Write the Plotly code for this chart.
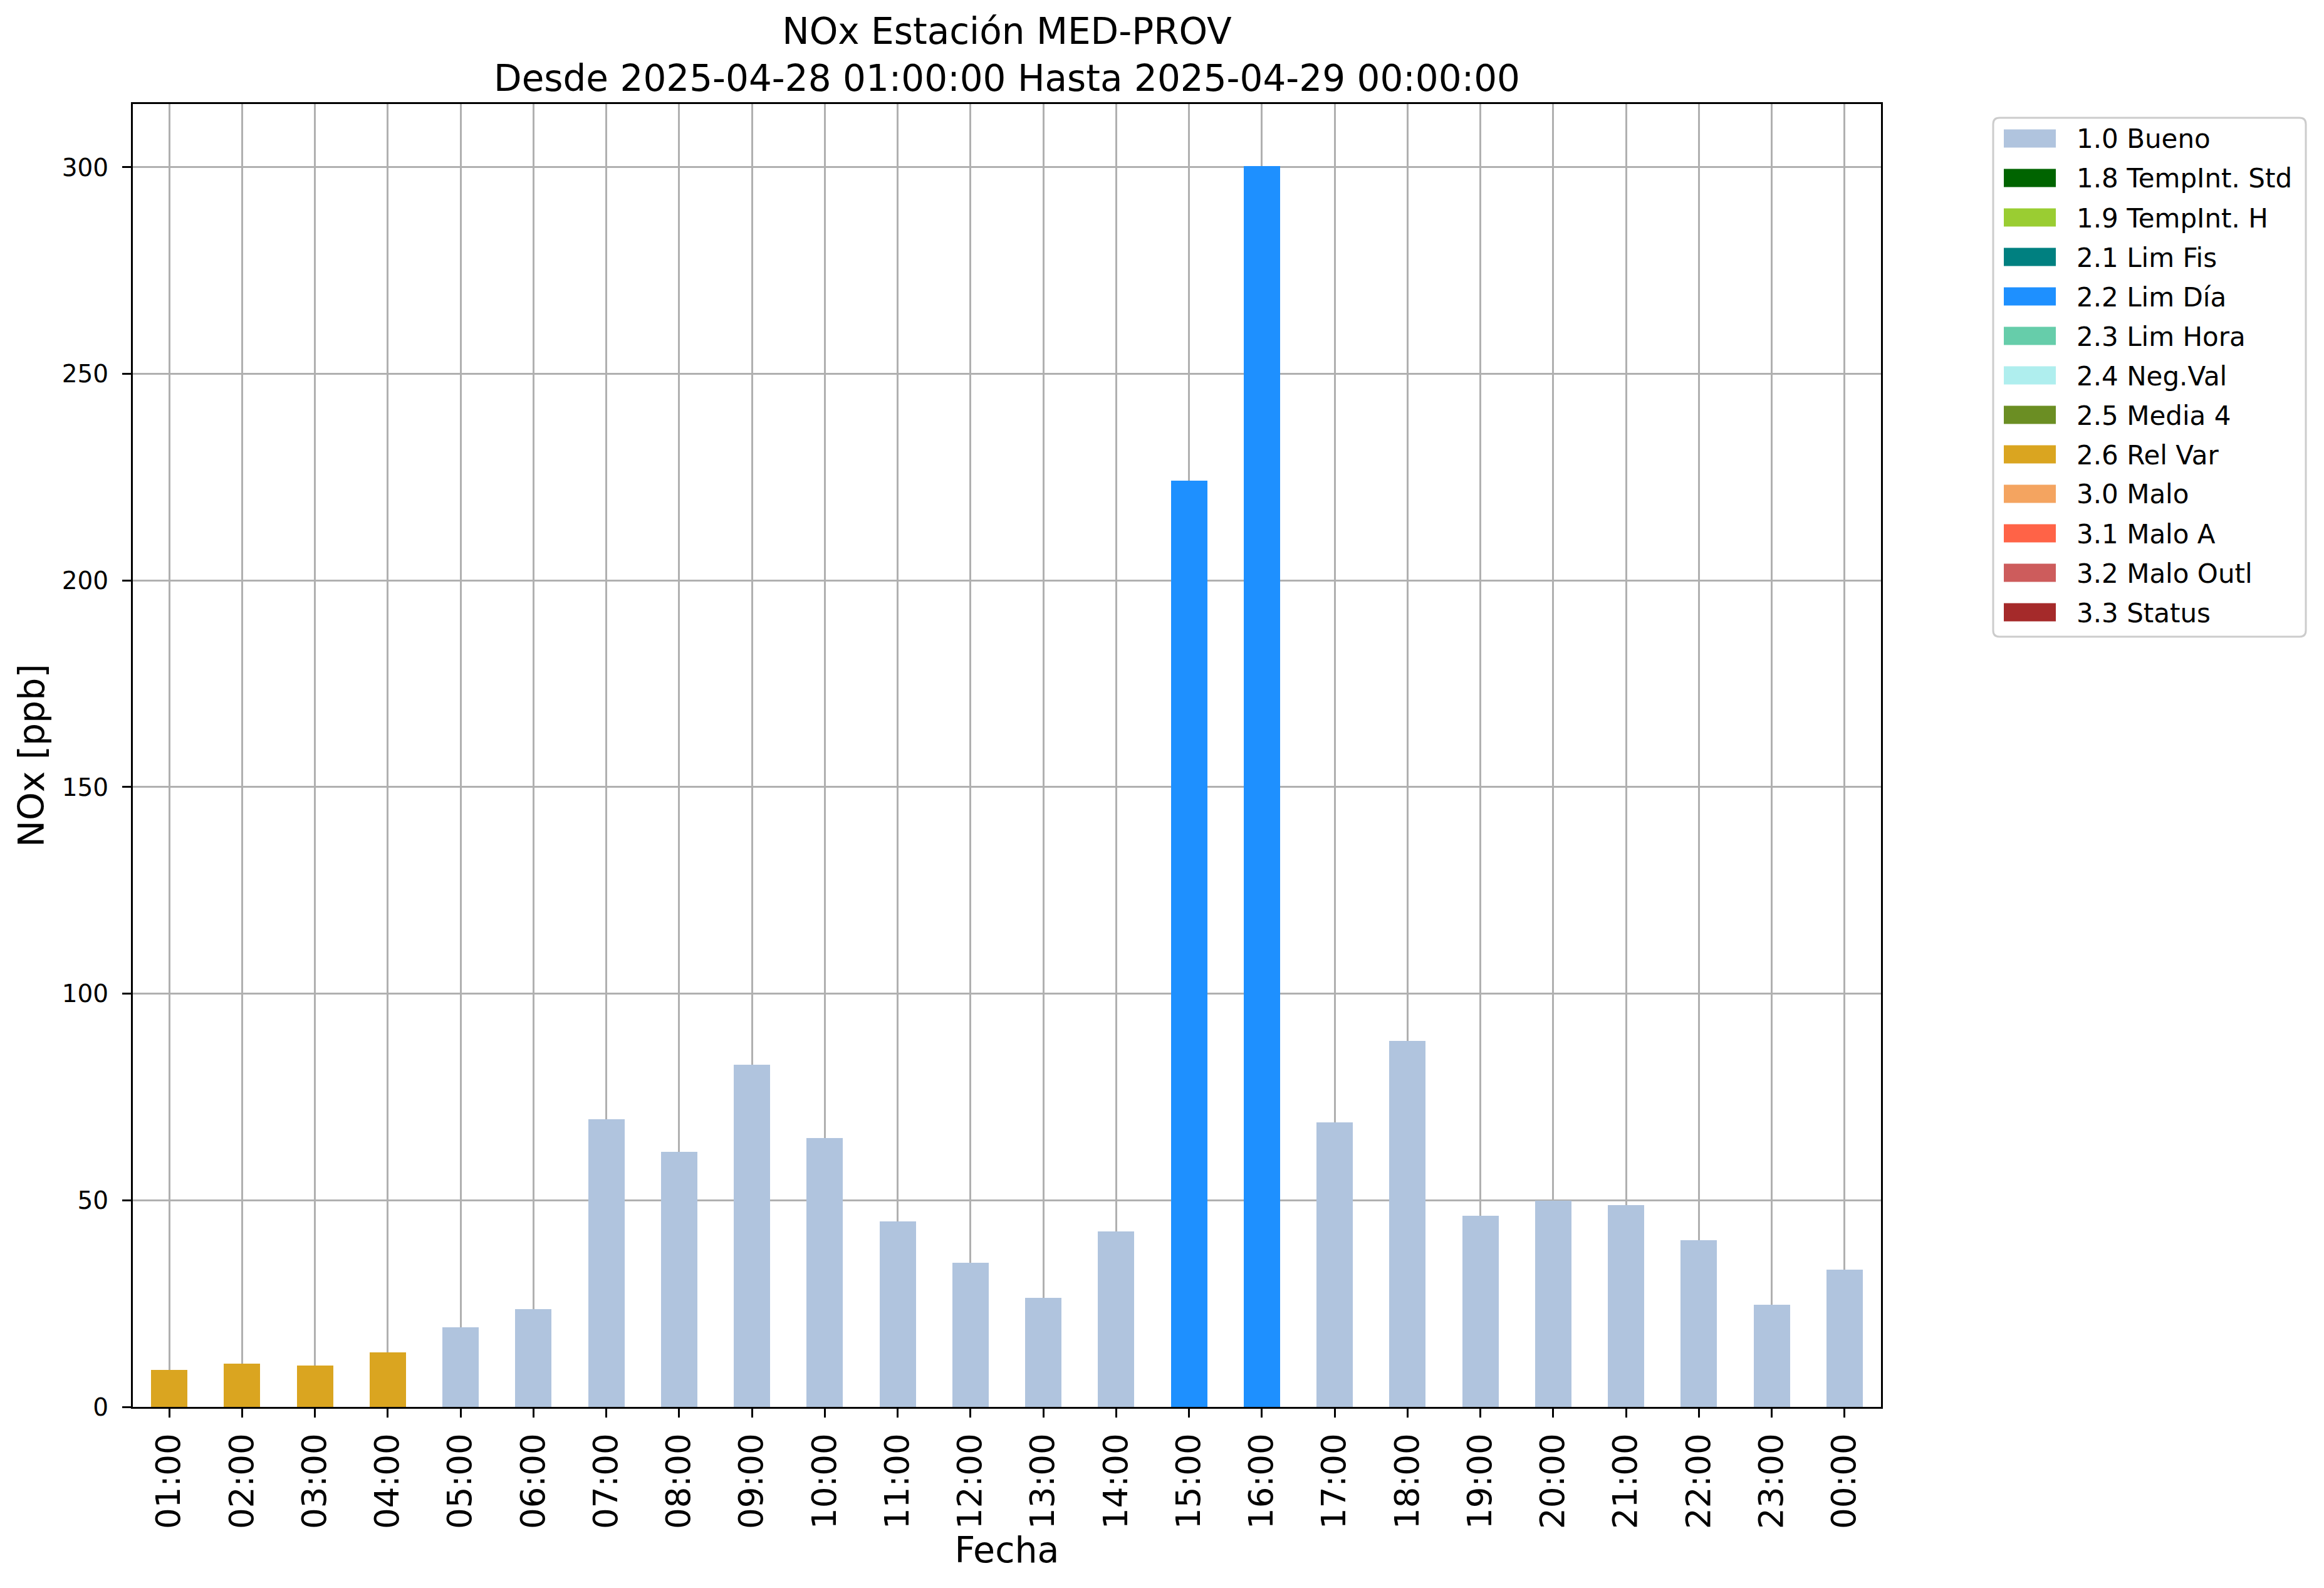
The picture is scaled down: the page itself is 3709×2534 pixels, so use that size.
import plotly.graph_objects as go

# ---------------- data ----------------
hours = ["01:00", "02:00", "03:00", "04:00", "05:00", "06:00", "07:00", "08:00",
         "09:00", "10:00", "11:00", "12:00", "13:00", "14:00", "15:00", "16:00",
         "17:00", "18:00", "19:00", "20:00", "21:00", "22:00", "23:00", "00:00"]
nox = [9.0, 10.4, 10.0, 13.2, 19.3, 23.7, 69.6, 61.8,
       82.8, 65.0, 44.9, 34.9, 26.4, 42.4, 224.1, 300.3,
       68.8, 88.6, 46.2, 49.9, 48.8, 40.3, 24.7, 33.2]
flags = ["2.6", "2.6", "2.6", "2.6", "1.0", "1.0", "1.0", "1.0",
         "1.0", "1.0", "1.0", "1.0", "1.0", "1.0", "2.2", "2.2",
         "1.0", "1.0", "1.0", "1.0", "1.0", "1.0", "1.0", "1.0"]

flag_codes = ["1.0", "1.8", "1.9", "2.1", "2.2", "2.3", "2.4", "2.5", "2.6",
              "3.0", "3.1", "3.2", "3.3"]
flag_labels = ["1.0 Bueno", "1.8 TempInt. Std", "1.9 TempInt. H", "2.1 Lim Fis",
               "2.2 Lim Día", "2.3 Lim Hora", "2.4 Neg.Val", "2.5 Media 4",
               "2.6 Rel Var", "3.0 Malo", "3.1 Malo A", "3.2 Malo Outl", "3.3 Status"]
flag_colors = ["#B0C4DE", "#006400", "#9ACD32", "#008080", "#1E90FF", "#66CDAA",
               "#AFEEEE", "#6B8E23", "#DAA520", "#F4A460", "#FF6347", "#CD5C5C",
               "#A52A2A"]

title_text = "NOx Estación MED-PROV<br>Desde 2025-04-28 01:00:00 Hasta 2025-04-29 00:00:00"

# ---------------- layout constants (pixels) ----------------
W, H = 3709, 2534
OFF = 8  # default page body margin
L, R, T, B = 212 - OFF, 3002 - OFF, 166 - OFF, 2245 - OFF
FONT = "DejaVu Sans"


def px_x(X):
    return (X - OFF - L) / (R - L)


def px_y(Y):
    return (B - (Y - OFF)) / (B - T)


fig = go.Figure()
for code, label, color in zip(flag_codes, flag_labels, flag_colors):
    yvals = [v if f == code else 0 for v, f in zip(nox, flags)]
    fig.add_trace(go.Bar(
        x=hours, y=yvals, name=label, width=0.5,
        marker=dict(color=color, line=dict(width=0)),
        showlegend=False,
    ))

# ---------------- custom legend (matplotlib style) ----------------
shapes = []
annotations = []
lx0, lx1, ly0, ly1 = 3181, 3680, 188, 1016
rad = 10
path = (f"M {px_x(lx0 + rad)},{px_y(ly0)} L {px_x(lx1 - rad)},{px_y(ly0)} "
        f"Q {px_x(lx1)},{px_y(ly0)} {px_x(lx1)},{px_y(ly0 + rad)} "
        f"L {px_x(lx1)},{px_y(ly1 - rad)} "
        f"Q {px_x(lx1)},{px_y(ly1)} {px_x(lx1 - rad)},{px_y(ly1)} "
        f"L {px_x(lx0 + rad)},{px_y(ly1)} "
        f"Q {px_x(lx0)},{px_y(ly1)} {px_x(lx0)},{px_y(ly1 - rad)} "
        f"L {px_x(lx0)},{px_y(ly0 + rad)} "
        f"Q {px_x(lx0)},{px_y(ly0)} {px_x(lx0 + rad)},{px_y(ly0)} Z")
shapes.append(dict(type="path", xref="paper", yref="paper", path=path,
                   line=dict(color="#cccccc", width=3), fillcolor="white",
                   layer="above"))
for i, (label, color) in enumerate(zip(flag_labels, flag_colors)):
    cy = 221 + 63 * i
    shapes.append(dict(type="rect", xref="paper", yref="paper",
                       x0=px_x(3198), x1=px_x(3281),
                       y0=px_y(cy - 14.5), y1=px_y(cy + 14.5),
                       fillcolor=color, line=dict(width=0), layer="above"))
    annotations.append(dict(text=label, xref="paper", yref="paper",
                            x=px_x(3312), y=px_y(cy + 1), xanchor="left",
                            yanchor="middle", showarrow=False,
                            font=dict(family=FONT, size=42, color="black")))

axis_common = dict(
    showgrid=True, gridcolor="#b0b0b0", gridwidth=3,
    showline=True, linecolor="black", linewidth=3, mirror=True,
    ticks="outside", ticklen=14, tickwidth=3, tickcolor="black",
    zeroline=False, layer="above traces",
)

fig.update_layout(
    width=W, height=H,
    margin=dict(l=L, r=W - R, t=T, b=H - B, autoexpand=False),
    paper_bgcolor="white", plot_bgcolor="white",
    barmode="stack",
    font=dict(family=FONT, color="black"),
    title=dict(text=title_text, x=px_x(1607), xref="paper", xanchor="center",
               y=1 - (70 - OFF) / H, yref="container", yanchor="middle",
               font=dict(family=FONT, size=58, color="black")),
    xaxis=dict(
        type="category", range=[-0.5, 23.5], tickangle=-90,
        tickfont=dict(family=FONT, size=53, color="black"),
        title=dict(text="Fecha", standoff=0,
                   font=dict(family=FONT, size=57, color="black")),
        ticklabelstandoff=4,
        **axis_common,
    ),
    yaxis=dict(
        range=[0, 315.3], tick0=0, dtick=50,
        tickfont=dict(family=FONT, size=39, color="black"),
        title=dict(text="NOx [ppb]", standoff=10,
                   font=dict(family=FONT, size=57, color="black")),
        ticklabelstandoff=14,
        **axis_common,
    ),
    shapes=shapes,
    annotations=annotations,
)

fig.write_html("out.html")
